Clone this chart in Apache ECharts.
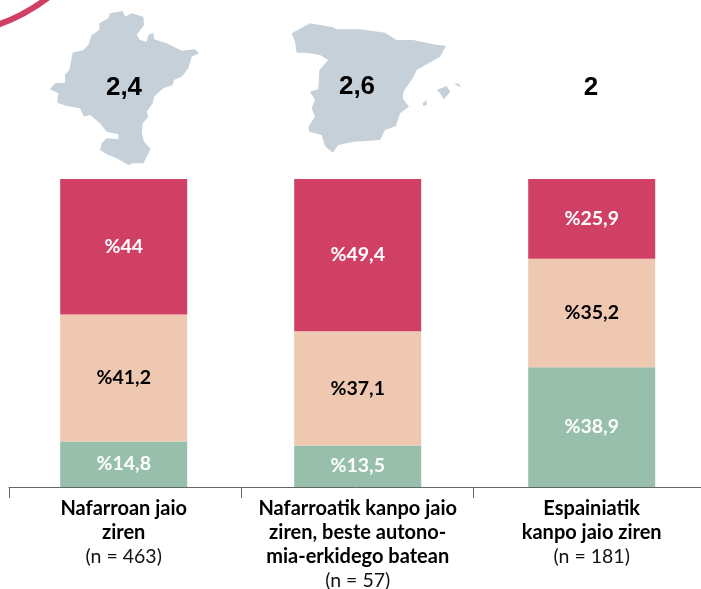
<!DOCTYPE html>
<html><head><meta charset="utf-8">
<style>html,body{margin:0;padding:0;background:#fff}#c{width:701px;height:589px}</style>
<script src="https://cdn.jsdelivr.net/npm/echarts@6/dist/echarts.min.js"></script></head>
<body><div id="c"></div>
<script>
const categories = ['Nafarroan jaio\nziren', 'Nafarroatik kanpo jaio\nziren, beste autono-\nmia-erkidego batean', 'Espainiatik\nkanpo jaio ziren'];
const sampleSizes = ['(n = 463)', '(n = 57)', '(n = 181)'];
const greenValues = [14.8, 13.5, 38.9];
const peachValues = [41.2, 37.1, 35.2];
const redValues = [44, 49.4, 25.9];
const headlineValues = ['2,4', '2,6', '2'];

const navarre = [[330,40],[368,33],[375,50],[395,40],[430,50],[432,75],[410,105],[420,120],[440,125],[445,105],[460,98],[462,118],[500,130],[545,152],[585,148],[597,160],[575,170],[565,205],[545,230],[522,240],[518,255],[490,265],[462,290],[458,310],[440,335],[445,350],[428,370],[425,400],[432,425],[452,447],[430,490],[400,490],[385,495],[350,475],[325,465],[300,450],[305,430],[320,415],[355,418],[355,403],[320,395],[300,370],[270,345],[252,350],[240,325],[200,318],[172,308],[175,280],[150,268],[165,250],[195,248],[195,225],[208,210],[218,158],[250,150],[265,135],[275,105],[298,90],[298,70],[325,55]];
const spainParts = [
 [[65,70],[105,48],[120,40],[190,52],[200,58],[270,58],[345,68],[380,90],[430,90],[490,103],[528,108],[510,140],[440,180],[428,205],[400,245],[398,265],[417,290],[390,310],[378,348],[345,360],[330,390],[250,395],[205,405],[188,428],[165,408],[155,375],[118,365],[115,350],[135,320],[125,295],[135,270],[120,245],[145,238],[148,180],[175,150],[150,135],[110,128],[80,128],[75,95]],
 [[500,240],[530,228],[541,245],[522,268],[510,250]],
 [[553,222],[565,220],[574,232],[562,227]],
 [[458,280],[470,270],[470,285],[460,288]]
];
const scaled = (pts, ox, oy) => pts.map(p => [ox + p[0] / 3, oy + p[1] / 3]);
const mapColor = '#c5d0d8';
const ff = 'Lato, Roboto, sans-serif';

const seg = (name, data, color, labelColor) => ({
  name, type: 'bar', stack: 'total', data, barWidth: 127, xAxisIndex: 0, yAxisIndex: 0,
  itemStyle: { color },
  label: { show: true, position: 'inside', color: labelColor, fontFamily: ff, fontWeight: 700, fontSize: 19.5,
    formatter: p => '%' + String(p.value).replace('.', ',') }
});

const shapes = [
  { type: 'bezierCurve', shape: { x1: -3, y1: 25, cpx1: 24, cpy1: 16, x2: 49, y2: -3 },
    style: { stroke: '#d04065', lineWidth: 6, fill: null } },
  { type: 'polygon', shape: { points: scaled(navarre, 0, 0) }, style: { fill: mapColor } }
].concat(spainParts.map(p => ({ type: 'polygon', shape: { points: scaled(p, 270, 10) }, style: { fill: mapColor } })));
[[124, 88], [357, 87], [591, 88]].forEach((pos, i) => shapes.push({
  type: 'text', x: pos[0], y: pos[1], z: 5,
  style: { text: headlineValues[i], fill: '#000', font: 'bold 26px "Liberation Sans", Arial, sans-serif', align: 'center', verticalAlign: 'middle' }
}));

const chart = echarts.init(document.getElementById('c'), null, { renderer: 'canvas' });
chart.setOption({
  animation: false,
  backgroundColor: '#fff',
  graphic: { elements: shapes },
  grid: [
    { left: 6.7, top: 179, width: 702, height: 308, outerBoundsMode: 'none' },
    { left: 9, top: 179, width: 696, height: 308, outerBoundsMode: 'none' }
  ],
  xAxis: [
    { type: 'category', gridIndex: 0, data: categories,
      axisLine: { show: false }, axisTick: { show: false },
      axisLabel: { interval: 0, margin: 10, verticalAlign: 'top', lineHeight: 24,
        formatter: (v, i) => v.split('\n').map(l => '{b|' + l + '}').join('\n') + '\n{n|' + sampleSizes[i] + '}',
        rich: {
          b: { fontFamily: ff, fontWeight: 700, fontSize: 20, color: '#000', lineHeight: 24, align: 'center' },
          n: { fontFamily: ff, fontWeight: 400, fontSize: 19.5, color: '#111', lineHeight: 24, align: 'center' }
        } } },
    { type: 'category', gridIndex: 1, data: categories, z: 6,
      axisLine: { lineStyle: { color: '#666', width: 1 } },
      axisTick: { show: true, length: 11, lineStyle: { color: '#666', width: 1 } },
      axisLabel: { show: false } }
  ],
  yAxis: [
    { type: 'value', gridIndex: 0, min: 0, max: 100, show: false },
    { type: 'value', gridIndex: 1, min: 0, max: 100, show: false }
  ],
  series: [
    seg('green', greenValues, '#97bfab', '#fff'),
    seg('peach', peachValues, '#efc8b2', '#000'),
    seg('red', redValues, '#d04065', '#fff'),
    { type: 'bar', xAxisIndex: 1, yAxisIndex: 1, data: [], silent: true }
  ]
});
</script></body></html>
